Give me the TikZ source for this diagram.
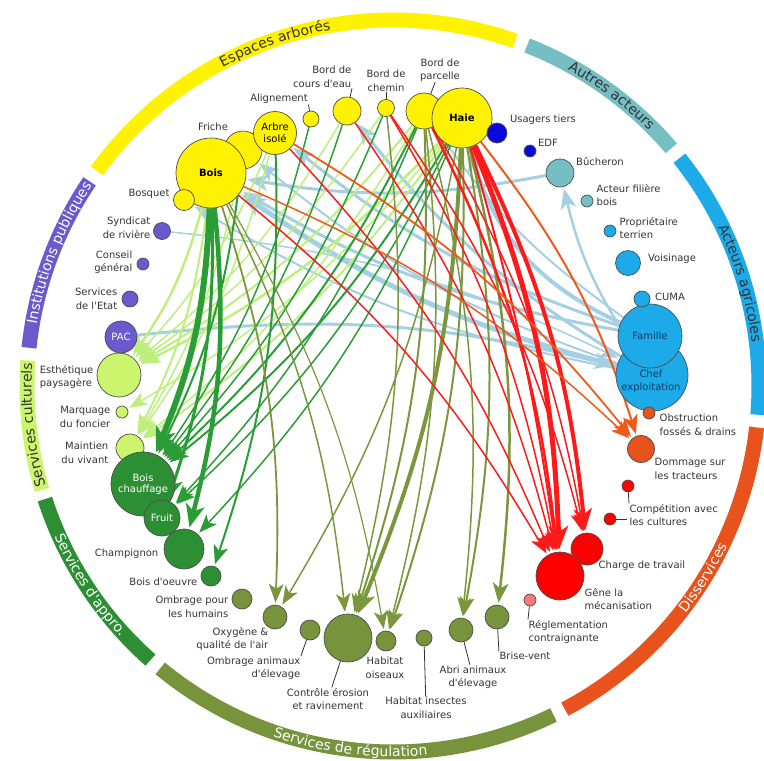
\documentclass[tikz,border=0pt]{standalone}
\usepackage{fontspec}
\setmainfont{DejaVu Sans}[Ligatures=TeXOff]
\usetikzlibrary{arrows.meta,backgrounds,decorations.text}

\definecolor{cYel}{HTML}{FFF200}
\definecolor{cTeal}{HTML}{76BDC4}
\definecolor{cBlue}{HTML}{0A0ADC}
\definecolor{cCyan}{HTML}{1CAAE8}
\definecolor{cOrg}{HTML}{E8521C}
\definecolor{cRed}{HTML}{FF0000}
\definecolor{cPink}{HTML}{F27A7A}
\definecolor{cOl}{HTML}{77933C}
\definecolor{cDg}{HTML}{2D8F33}
\definecolor{cLg}{HTML}{CCF56E}
\definecolor{cPur}{HTML}{6A5ACD}
\definecolor{eLb}{HTML}{A5CFE2}
\definecolor{eLg}{HTML}{BDEE7E}
\definecolor{eDg}{HTML}{2A9D36}
\definecolor{eOl}{HTML}{7A973E}
\definecolor{eRd}{HTML}{FF1A1A}
\definecolor{eOr}{HTML}{EE5A1A}
\definecolor{txt}{HTML}{333333}
\definecolor{navy}{HTML}{143C64}

\newcommand{\bandfont}{\fontsize{14}{16}\selectfont}

\tikzset{
  nd/.style={circle,draw=black!70,line width=0.7pt,inner sep=0pt,align=center,font=\fontsize{10}{11.5}\selectfont},
  lab/.style={font=\fontsize{10}{13.5}\selectfont,text=txt,inner sep=0.5pt},
  ldr/.style={draw=txt,line width=0.8pt},
  band/.style={line width=15pt},
  ed/.style={line width=#1,-{Stealth[length=16pt 1.5,width=12pt 1.5,inset=4pt 0.5]},shorten >=2pt,bend left=10},
  actlink/.style={ed=#1,color=eLb},
  cultlink/.style={ed=#1,color=eLg},
  approlink/.style={ed=#1,color=eDg},
  regullink/.style={ed=#1,color=eOl},
  disslink/.style={ed=#1,color=eRd},
  dissorlink/.style={ed=#1,color=eOr},
}

\begin{document}
\begin{tikzpicture}[x=1pt,y=1pt]
\useasboundingbox (0,0) rectangle (764,-761);
\coordinate (ctr) at (393,-386);

% outer ring
\draw[band,cYel] ([shift={(70.5:366pt)}]ctr) arc[start angle=70.5,end angle=144,radius=366pt];
\draw[band,cTeal] ([shift={(40.5:366pt)}]ctr) arc[start angle=40.5,end angle=68.5,radius=366pt];
\draw[band,cCyan] ([shift={(-4.5:366pt)}]ctr) arc[start angle=-4.5,end angle=38.5,radius=366pt];
\draw[band,cOrg] ([shift={(-62:366pt)}]ctr) arc[start angle=-62,end angle=-6.5,radius=366pt];
\draw[band,cOl] ([shift={(-129.5:366pt)}]ctr) arc[start angle=-129.5,end angle=-64,radius=366pt];
\draw[band,cDg] ([shift={(198:366pt)}]ctr) arc[start angle=198,end angle=228.5,radius=366pt];
\draw[band,cLg] ([shift={(176:366pt)}]ctr) arc[start angle=176,end angle=196.5,radius=366pt];
\draw[band,cPur] ([shift={(146:366pt)}]ctr) arc[start angle=146,end angle=174,radius=366pt];

% ring titles, read clockwise (outer) or anticlockwise (inner)
\path[decorate,decoration={text along path,text align=center,text={|\bandfont\color{txt}|Espaces arborés}}]
  ([shift={(139:361.5pt)}]ctr) arc[start angle=139,end angle=79,radius=361.5pt];
\path[decorate,decoration={text along path,text align=center,text={|\bandfont\color{txt}|Autres acteurs}}]
  ([shift={(83:361.5pt)}]ctr) arc[start angle=83,end angle=23,radius=361.5pt];
\path[decorate,decoration={text along path,text align=center,text={|\bandfont\color{txt}|Acteurs agricoles}}]
  ([shift={(46:361.5pt)}]ctr) arc[start angle=46,end angle=-13,radius=361.5pt];
\path[decorate,decoration={text along path,text align=center,text={|\bandfont\color{white}|Disservices}}]
  ([shift={(-61.7:370.5pt)}]ctr) arc[start angle=-61.7,end angle=-1.7,radius=370.5pt];
\path[decorate,decoration={text along path,text align=center,text={|\bandfont\color{white}|Services de régulation}}]
  ([shift={(223.2:370.5pt)}]ctr) arc[start angle=223.2,end angle=303.2,radius=370.5pt];
\path[decorate,decoration={text along path,text align=center,text={|\bandfont\color{white}|Services d'appro.}}]
  ([shift={(183.3:370.5pt)}]ctr) arc[start angle=183.3,end angle=243.3,radius=370.5pt];
\path[decorate,decoration={text along path,text align=center,text={|\bandfont\color{txt}|Services culturels}}]
  ([shift={(216.2:361.5pt)}]ctr) arc[start angle=216.2,end angle=156.2,radius=361.5pt];
\path[decorate,decoration={text along path,text align=center,text={|\bandfont\color{white}|Institutions publiques}}]
  ([shift={(193.3:361.5pt)}]ctr) arc[start angle=193.3,end angle=123.3,radius=361.5pt];

% espaces arbores
\node[nd,fill=cYel,minimum size=38pt](friche) at (243,-150) {};
\node[nd,fill=cYel,minimum size=43pt](arbre) at (275,-133) {Arbre\\isolé};
\node[nd,fill=cYel,minimum size=70pt](bois) at (211,-173) {\textbf{Bois}};
\node[nd,fill=cYel,minimum size=21pt](bosquet) at (184,-200) {};
\node[nd,fill=cYel,minimum size=16pt](align) at (311,-119) {};
\node[nd,fill=cYel,minimum size=28pt](coursdeau) at (347,-111) {};
\node[nd,fill=cYel,minimum size=17pt](chemin) at (386,-108) {};
\node[nd,fill=cYel,minimum size=36pt](parcelle) at (424,-111) {};
\node[nd,fill=cYel,minimum size=60pt](haie) at (462,-118) {\textbf{Haie}};

% autres acteurs
\node[nd,fill=cBlue,minimum size=20pt](usagers) at (497,-133) {};
\node[nd,fill=cBlue,minimum size=12pt](edf) at (530,-151) {};
\node[nd,fill=cTeal,minimum size=28pt](bucheron) at (560,-173) {};
\node[nd,fill=cTeal,minimum size=12pt](filiere) at (587,-201) {};

% acteurs agricoles
\node[nd,fill=cCyan,minimum size=12pt](proprio) at (610,-231) {};
\node[nd,fill=cCyan,minimum size=25pt](voisinage) at (628,-263) {};
\node[nd,fill=cCyan,minimum size=72pt](chef) at (652,-375) {};
\node[nd,fill=cCyan,minimum size=64pt,text=navy](famille) at (650,-336) {Famille};
\node[nd,fill=cCyan,minimum size=16pt](cuma) at (642,-299) {};
\node[lab,align=center,text=navy](tChef) at (651,-381) {Chef\\exploitation};

% disservices
\node[nd,fill=cOrg,minimum size=12pt](obstruction) at (649,-413) {};
\node[nd,fill=cOrg,minimum size=27pt](dommage) at (641,-449) {};
\node[nd,fill=cRed,minimum size=12pt](compet) at (628,-486) {};
\node[nd,fill=cRed,minimum size=12pt](competb) at (610,-519) {};
\node[nd,fill=cRed,minimum size=32pt](charge) at (587,-549) {};
\node[nd,fill=cRed,minimum size=48pt](gene) at (560,-576) {};
\node[nd,fill=cPink,minimum size=12pt](regle) at (530,-600) {};

% services de regulation
\node[nd,fill=cOl,minimum size=24pt](brise) at (497,-617) {};
\node[nd,fill=cOl,minimum size=24pt](abri) at (461,-630) {};
\node[nd,fill=cOl,minimum size=16pt](insectes) at (424,-638) {};
\node[nd,fill=cOl,minimum size=20pt](oiseaux) at (386,-641) {};
\node[nd,fill=cOl,minimum size=48pt](erosion) at (348,-638) {};
\node[nd,fill=cOl,minimum size=20pt](ombanim) at (310,-630) {};
\node[nd,fill=cOl,minimum size=24pt](oxygene) at (275,-617) {};
\node[nd,fill=cOl,minimum size=20pt](ombhum) at (242,-599) {};

% services culturels
\node[nd,fill=cLg,minimum size=44pt](esthe) at (119,-375) {};
\node[nd,fill=cLg,minimum size=12pt](marquage) at (122,-412) {};
\node[nd,fill=cLg,minimum size=28pt](maintien) at (130,-448) {};

% services d'appro.
\node[nd,fill=cDg,minimum size=64pt,text=white](chauffage) at (143,-484) {Bois\\chauffage};
\node[nd,fill=cDg,minimum size=36pt,text=white](fruit) at (162,-518) {Fruit};
\node[nd,fill=cDg,minimum size=40pt](champi) at (184,-549) {};
\node[nd,fill=cDg,minimum size=20pt](oeuvre) at (211,-576) {};

% institutions
\node[nd,fill=cPur,minimum size=17pt](syndicat) at (162,-231) {};
\node[nd,fill=cPur,minimum size=12pt](conseil) at (143,-264) {};
\node[nd,fill=cPur,minimum size=16pt](etat) at (130,-299) {};
\node[nd,fill=cPur,minimum size=32pt,text=white](pac) at (121,-337) {PAC};

% labels
\node[lab](tFriche) at (213,-127) {Friche};
\node[lab](tBosquet) at (149,-194) {Bosquet};
\node[lab](tAlign) at (279,-99) {Alignement};
\node[lab,anchor=east,align=right](tCours) at (352,-77) {Bord de\\cours d'eau};
\node[lab,align=center](tChemin) at (386,-81) {Bord de\\chemin};
\node[lab,align=center](tParcelle) at (440,-70) {Bord de\\parcelle};
\node[lab](tUsagers) at (543,-120) {Usagers tiers};
\node[lab](tEdf) at (548,-143) {EDF};
\node[lab](tBuch) at (600,-162) {Bûcheron};
\node[lab,anchor=west,align=left](tFiliere) at (596,-195) {Acteur filière\\bois};
\node[lab,anchor=west,align=left](tProprio) at (619,-228) {Propriétaire\\terrien};
\node[lab](tVoisin) at (672,-259) {Voisinage};
\node[lab](tCuma) at (670,-297) {CUMA};
\node[lab,anchor=west,align=left](tObstr) at (659,-425) {Obstruction\\fossés \& drains};
\node[lab,anchor=west,align=left](tDommage) at (654,-469) {Dommage sur\\les tracteurs};
\node[lab,anchor=west,align=left](tCompet) at (629,-515) {Compétition avec\\les cultures};
\node[lab,anchor=west](tCharge) at (598,-566) {Charge de travail};
\node[lab,anchor=west,align=left](tGene) at (584,-599) {Gêne la\\mécanisation};
\node[lab,anchor=west,align=left](tRegle) at (528,-632) {Réglementation\\contraignante};
\node[lab](tBrise) at (525,-656) {Brise-vent};
\node[lab,align=center](tAbri) at (473,-677) {Abri animaux\\d'élevage};
\node[lab,align=center](tInsect) at (426,-708) {Habitat insectes\\auxiliaires};
\node[lab,align=center](tOiseaux) at (385,-668) {Habitat\\oiseaux};
\node[lab,align=center](tErosion) at (328,-699) {Contrôle érosion\\et ravinement};
\node[lab,anchor=east,align=right](tOmbAnim) at (301,-668) {Ombrage animaux\\d'élevage};
\node[lab,anchor=east,align=right](tOxy) at (269,-639) {Oxygène \&\\qualité de l'air};
\node[lab,anchor=east,align=right](tOmbHum) at (229,-607) {Ombrage pour\\les humains};
\node[lab,anchor=east](tOeuvre) at (198,-582) {Bois d'oeuvre};
\node[lab,anchor=east](tChampi) at (159,-554) {Champignon};
\node[lab,anchor=east,align=right](tMaintien) at (109,-453) {Maintien\\du vivant};
\node[lab,anchor=east,align=right](tMarquage) at (111,-417) {Marquage\\du foncier};
\node[lab,anchor=east,align=left](tEsthe) at (94,-377) {Esthétique\\paysagère};
\node[lab,anchor=east,align=right](tEtat) at (118,-299) {Services\\de l'Etat};
\node[lab,anchor=east,align=right](tConseil) at (133,-262) {Conseil\\général};
\node[lab,anchor=east,align=right](tSyndicat) at (151,-228) {Syndicat\\de rivière};

% leaders
\coordinate (cLes) at (627,-519);
\draw[ldr] (align) -- (tAlign.south east);
\draw[ldr] (coursdeau) -- (tCours.south east);
\draw[ldr] (chemin) -- (tChemin);
\draw[ldr] (parcelle) -- (tParcelle);
\draw[ldr] (compet) -- (tCompet.north west);
\draw[ldr] (competb) -- (cLes);
\draw[ldr] (regle) -- (tRegle.north west);
\draw[ldr] (brise) -- (tBrise.north west);
\draw[ldr] (abri) -- (tAbri);
\draw[ldr] (insectes) -- (tInsect);
\draw[ldr] (erosion) -- (tErosion);
\draw[ldr] (ombanim) -- (tOmbAnim.north east);

\begin{scope}[on background layer]
% acteurs -> espaces
\draw[actlink=3pt] (bucheron) to (bois);
\draw[actlink=5pt] (chef) to (bois);
\draw[actlink=3pt] (famille) to (bois);
\draw[actlink=3pt] (famille) to (arbre);
\draw[actlink=2pt] (chef) to (friche);
\draw[actlink=3pt] (chef) to (coursdeau);
\draw[actlink=2pt] (famille) to (parcelle);
\draw[actlink=4pt,bend left=25] (famille) to (haie);
\draw[actlink=2.5pt] (chef) to (bucheron);
\draw[actlink=3pt] (pac) to (chef);
\draw[actlink=1.5pt] (syndicat) to (chef);
\draw[actlink=2pt] (chef) to (bosquet);
% services culturels
\draw[cultlink=2.5pt] (bois) to (esthe);
\draw[cultlink=2.5pt] (haie) to (esthe);
\draw[cultlink=2pt] (parcelle) to (esthe);
\draw[cultlink=1.5pt] (arbre) to (esthe);
\draw[cultlink=1.5pt] (coursdeau) to (esthe);
\draw[cultlink=1.5pt] (chemin) to (esthe);
\draw[cultlink=2pt] (haie) to (maintien);
\draw[cultlink=1.5pt] (parcelle) to (maintien);
\draw[cultlink=2pt] (bois) to (maintien);
\draw[cultlink=1.5pt] (friche) to (maintien);
\draw[cultlink=1.5pt] (haie) to (marquage);
\draw[cultlink=1.5pt] (arbre) to (maintien);
% services d'appro.
\draw[approlink=6pt] (bois) to (chauffage);
\draw[approlink=4.5pt] (bois) to (champi);
\draw[approlink=3pt] (bois) to (fruit);
\draw[approlink=2pt] (arbre) to (oeuvre);
\draw[approlink=2pt] (haie) to (chauffage);
\draw[approlink=2pt] (parcelle) to (chauffage);
\draw[approlink=1.5pt] (chemin) to (chauffage);
\draw[approlink=1.5pt] (coursdeau) to (chauffage);
\draw[approlink=1.5pt] (align) to (chauffage);
\draw[approlink=1.5pt] (haie) to (fruit);
\draw[approlink=1.5pt] (parcelle) to (fruit);
\draw[approlink=1.5pt] (haie) to (champi);
\draw[approlink=2pt] (friche) to (chauffage);
% services de regulation
\draw[regullink=1.8pt] (bois) to (oxygene);
\draw[regullink=1.5pt] (bois) to (erosion);
\draw[regullink=1.2pt] (bois) to (oiseaux);
\draw[regullink=4pt] (haie) to (erosion);
\draw[regullink=2pt] (parcelle) to (erosion);
\draw[regullink=1.5pt] (chemin) to (erosion);
\draw[regullink=2pt] (haie) to (oiseaux);
\draw[regullink=1.5pt] (parcelle) to (oiseaux);
\draw[regullink=2pt] (haie) to (abri);
\draw[regullink=1.5pt] (parcelle) to (abri);
\draw[regullink=2.5pt] (haie) to (brise);
\draw[regullink=1.5pt] (haie) to (oxygene);
% disservices
\draw[disslink=5pt] (haie) to (gene);
\draw[disslink=2pt,bend left=4] (haie) to (gene);
\draw[disslink=4pt] (haie) to (charge);
\draw[disslink=2.5pt] (parcelle) to (gene);
\draw[disslink=1.5pt] (chemin) to (gene);
\draw[disslink=1.5pt] (arbre) to (gene);
\draw[disslink=1.5pt] (coursdeau) to (gene);
\draw[disslink=1.5pt] (parcelle) to (charge);
\draw[disslink=1.5pt] (chemin) to (charge);
\draw[disslink=1.5pt] (bois) to (gene);
\draw[dissorlink=2pt] (haie) to (dommage);
\draw[dissorlink=1.8pt] (arbre) to (dommage);
\draw[dissorlink=1.5pt] (bois) to (dommage);
\end{scope}
\end{tikzpicture}
\end{document}
